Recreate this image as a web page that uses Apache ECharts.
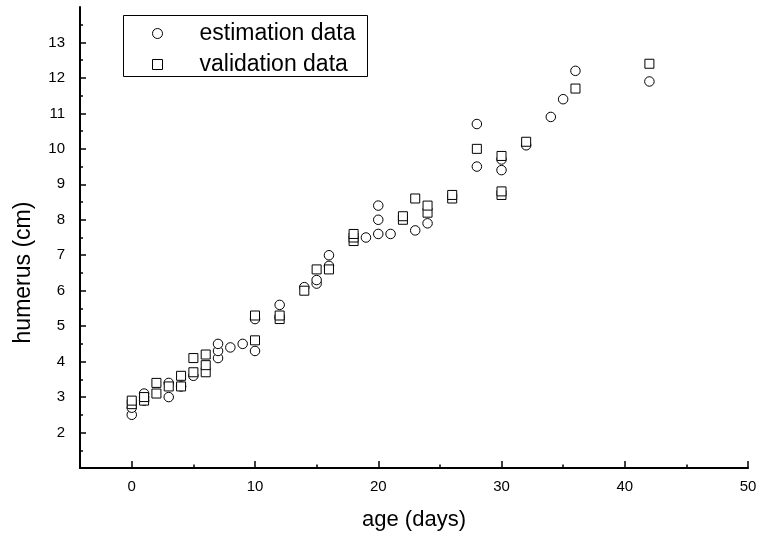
<!DOCTYPE html>
<html>
<head>
<meta charset="utf-8">
<script src="https://cdn.jsdelivr.net/npm/echarts@6/dist/echarts.min.js"></script>
<style>
html,body{margin:0;padding:0;background:#fff;}
#chart{width:762px;height:540px;}
</style>
</head>
<body>
<div id="chart"></div>
<script>
// ---- data ----
var estimationAge = [0,0,1,1,1,3,3,4,5,7,7,7,8,9,10,10,12,12,14,15,15,16,16,19,20,20,20,21,23,24,28,28,30,30,32,34,35,36,42];
var estimationHumerus = [2.5,2.7,2.9,3.0,3.1,3.0,3.4,3.3,3.6,4.1,4.3,4.5,4.4,4.5,4.3,5.2,5.25,5.6,6.1,6.2,6.3,6.7,7.0,7.5,7.6,8.0,8.4,7.6,7.7,7.9,9.5,10.7,9.4,9.7,10.1,10.9,11.4,12.2,11.9];
var validationAge = [0,0,1,1,2,2,3,4,4,5,5,6,6,6,10,10,12,12,14,15,16,18,18,18,22,22,23,24,24,26,26,28,30,30,30,32,36,42];
var validationHumerus = [2.8,2.9,2.9,3.0,3.1,3.4,3.3,3.3,3.6,3.7,4.1,3.7,3.9,4.2,4.6,5.3,5.2,5.3,6.0,6.6,6.6,7.4,7.5,7.6,8.0,8.1,8.6,8.2,8.4,8.6,8.7,10.0,8.7,8.8,9.8,10.2,11.7,12.4];
var seriesNames = ['estimation data', 'validation data'];
var xMajorTicks = [0,10,20,30,40,50];
var xMinorTicks = [5,15,25,35,45];
var yMajorTicks = [2,3,4,5,6,7,8,9,10,11,12,13];
var yMinorTicks = [1.5,2.5,3.5,4.5,5.5,6.5,7.5,8.5,9.5,10.5,11.5,12.5,13.5];
var xName = 'age (days)';
var yName = 'humerus (cm)';

function pairs(xs, ys) { return xs.map(function (x, i) { return [x, ys[i]]; }); }

var FONT = '"Liberation Sans", Arial, Helvetica, sans-serif';
var chart = echarts.init(document.getElementById('chart'), null, {renderer: 'canvas'});
var markerStyle = {color: '#ffffff', borderColor: '#000000', borderWidth: 1, opacity: 1};

var xBase = {
  type: 'value', min: -4.2, max: 50, position: 'bottom', gridIndex: 0,
  splitLine: {show: false}, minorTick: {show: false}
};
var yBase = {
  type: 'value', min: 1, max: 14, position: 'left', gridIndex: 0,
  splitLine: {show: false}, minorTick: {show: false}
};

var option = {
  animation: false,
  backgroundColor: '#ffffff',
  textStyle: {fontFamily: FONT},
  grid: {left: 80, right: 14, top: 7, bottom: 72, containLabel: false, outerBoundsMode: 'none'},
  graphic: [{
    type: 'rect', left: 123, top: 15, z: 10,
    shape: {width: 244, height: 61},
    style: {fill: 'rgba(0,0,0,0)', stroke: '#000', lineWidth: 1}
  }],
  legend: {
    orient: 'vertical', left: 152, top: 22, padding: 0,
    itemWidth: 74, itemHeight: 10, itemGap: 8,
    selectedMode: false,
    textStyle: {fontSize: 23, color: '#000', fontFamily: FONT, lineHeight: 21},
    data: [
      {name: seriesNames[0], icon: 'circle', itemStyle: markerStyle},
      {name: seriesNames[1], icon: 'path://M0,0L10,0L10,10L0,10Z', itemStyle: markerStyle}
    ]
  },
  xAxis: [
    Object.assign({}, xBase, {
      name: xName, nameLocation: 'middle', nameGap: 41,
      nameTextStyle: {fontSize: 22, color: '#000', fontFamily: FONT},
      axisLine: {show: true, onZero: false, lineStyle: {color: '#000', width: 2}},
      axisTick: {show: true, inside: true, length: 7, customValues: xMajorTicks, lineStyle: {color: '#000', width: 1.5}},
      axisLabel: {show: true, margin: 11, fontSize: 15, color: '#000', fontFamily: FONT, customValues: xMajorTicks}
    }),
    Object.assign({}, xBase, {
      axisLine: {show: false, onZero: false},
      axisTick: {show: true, inside: true, length: 3.5, customValues: xMinorTicks, lineStyle: {color: '#000', width: 1.5}},
      axisLabel: {show: false}
    })
  ],
  yAxis: [
    Object.assign({}, yBase, {
      name: yName, nameLocation: 'middle', nameGap: 45,
      nameTextStyle: {fontSize: 23, color: '#000', fontFamily: FONT, padding: [0, 70, 0, 0]},
      axisLine: {show: true, onZero: false, lineStyle: {color: '#000', width: 2}},
      axisTick: {show: true, inside: true, length: 6, customValues: yMajorTicks, lineStyle: {color: '#000', width: 1.5}},
      axisLabel: {show: true, margin: 15, fontSize: 15, color: '#000', fontFamily: FONT, customValues: yMajorTicks}
    }),
    Object.assign({}, yBase, {
      axisLine: {show: false, onZero: false},
      axisTick: {show: true, inside: true, length: 3, customValues: yMinorTicks, lineStyle: {color: '#000', width: 1.5}},
      axisLabel: {show: false}
    })
  ],
  series: [
    {
      name: seriesNames[0], type: 'scatter', xAxisIndex: 0, yAxisIndex: 0,
      symbol: 'circle', symbolSize: 9.5, itemStyle: markerStyle,
      emphasis: {disabled: true},
      data: pairs(estimationAge, estimationHumerus)
    },
    {
      name: seriesNames[1], type: 'scatter', xAxisIndex: 0, yAxisIndex: 0,
      symbol: 'rect', symbolSize: 9, itemStyle: markerStyle,
      emphasis: {disabled: true},
      data: pairs(validationAge, validationHumerus)
    }
  ]
};
chart.setOption(option);
</script>
</body>
</html>
